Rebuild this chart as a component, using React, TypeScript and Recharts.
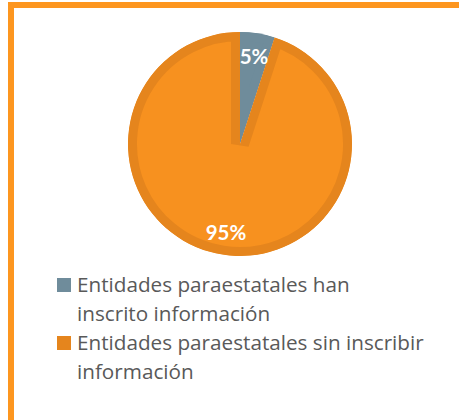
import { PieChart, Pie, Cell, Legend, Sector } from "recharts";

const categories = [
  "Entidades paraestatales han inscrito información",
  "Entidades paraestatales sin inscribir información",
];
// legend text as it breaks in the original
const legendLines = [
  ["Entidades paraestatales han", "inscrito información"],
  ["Entidades paraestatales sin inscribir", "información"],
];
const shares = [5, 95];
const fills = ["#6f8c9b", "#f7911f"];
const edges = ["#6f8c9b", "#e5851d"];

const data = categories.map((name, i) => ({ name, value: shares[i] }));

const RAD = Math.PI / 180;

// sector with its stroke clipped to the inside, like the original's inner border
const InsetSector = (props: any) => {
  const id = `clip-${String(props.fill).replace("#", "")}`;
  return (
    <g>
      <defs>
        <clipPath id={id}>
          <Sector {...props} stroke="none" />
        </clipPath>
      </defs>
      <Sector {...props} strokeWidth={18} clipPath={`url(#${id})`} />
    </g>
  );
};

const renderLabel = (p: any) => {
  const r = p.outerRadius * 0.8;
  const x = p.cx + r * Math.cos(-p.midAngle * RAD);
  const y = p.cy + r * Math.sin(-p.midAngle * RAD);
  return (
    <text
      x={x}
      y={y}
      fill="#ffffff"
      textAnchor="middle"
      dominantBaseline="central"
      style={{ fontFamily: "Lato, sans-serif", fontWeight: 700, fontSize: 20.5 }}
    >
      {`${p.value}%`}
    </text>
  );
};

const renderLegend = () => (
  <div style={{ fontFamily: "'Open Sans', sans-serif", fontSize: 20.7, lineHeight: "29px", color: "#595959" }}>
    {legendLines.map((lines, i) => (
      <div key={categories[i]} style={{ display: "flex", alignItems: "flex-start" }}>
        <span
          style={{
            width: 14,
            height: 14,
            marginTop: 8,
            marginRight: 6,
            flex: "none",
            background: edges[i],
          }}
        />
        <span style={{ whiteSpace: "nowrap" }}>
          {lines.map((l, j) => (
            <div key={j}>{l}</div>
          ))}
        </span>
      </div>
    ))}
  </div>
);

export default function App() {
  return (
    <div style={{ position: "absolute", left: 0, top: 0, width: 459, height: 420, overflow: "hidden", background: "#fff" }}>
      <div
        style={{
          position: "absolute",
          left: 8,
          top: 2,
          width: 480,
          height: 412,
          border: "6px solid #fd961f",
        }}
      />
      <div style={{ position: "absolute", left: 0, top: 0 }}>
        <PieChart width={459} height={420} margin={{ top: 0, right: 0, bottom: 0, left: 0 }}>
          <Pie
            data={data}
            dataKey="value"
            nameKey="name"
            cx={240}
            cy={144}
            outerRadius={112}
            startAngle={90}
            endAngle={-270}
            label={renderLabel}
            labelLine={false}
            shape={InsetSector}
            isAnimationActive={false}
          >
            {data.map((d, i) => (
              <Cell key={d.name} fill={fills[i]} stroke={edges[i]} />
            ))}
          </Pie>
          <Legend
            content={renderLegend}
            wrapperStyle={{ left: 57, top: 270, width: 390 }}
          />
        </PieChart>
      </div>
    </div>
  );
}
